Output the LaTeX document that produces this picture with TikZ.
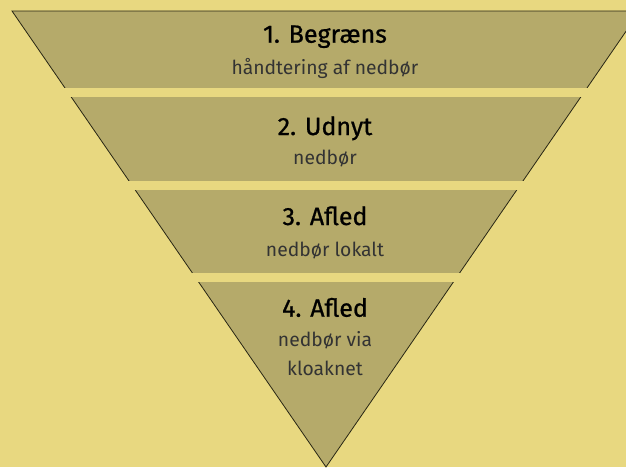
\documentclass[tikz,border=0pt]{standalone}
\usepackage{fontspec}
\setmainfont{Fira Sans}
\newfontfamily\titlefont[FakeBold=0.8]{Fira Sans}
\definecolor{bgyellow}{RGB}{232,216,128}
\definecolor{bandfill}{RGB}{181,170,106}
\definecolor{edgeline}{RGB}{40,38,20}
\begin{document}
\begin{tikzpicture}[x=1pt,y=-1pt,
    title/.style={anchor=base, font=\titlefont\fontsize{25}{29}\selectfont, text=black},
    sub/.style={anchor=base, font=\fontsize{19.3}{23}\selectfont, text=black!80}]
    \path[use as bounding box, fill=bgyellow] (0,0) rectangle (626,467);
    \clip (0,0) rectangle (626,467);

    % the funnel, cut into four bands
    \draw[fill=bandfill, draw=edgeline, line width=0.8pt] (12,11) -- (640,11) -- (326,467) -- cycle;
    \foreach \gtop/\gbot in {88/97,181/190,273/282} {
        \fill[bgyellow] (0,\gtop) rectangle (626,\gbot);
    }

    \foreach \i/\y/\txt in {1/42.7/1. Begræns, 2/135/2. Udnyt, 3/225/3. Afled, 4/316.7/4. Afled} {
        \node[title] (t\i) at (325,\y) {\txt};
    }
    \node[sub] (s1) at (325,74) {håndtering af nedbør};
    \node[sub] (s2) at (325,164) {nedbør};
    \node[sub] (s3) at (325,256) {nedbør lokalt};
    \node[sub] (s4a) at (325,346) {nedbør via};
    \node[sub] (s4b) at (325,375) {kloaknet};
\end{tikzpicture}
\end{document}
